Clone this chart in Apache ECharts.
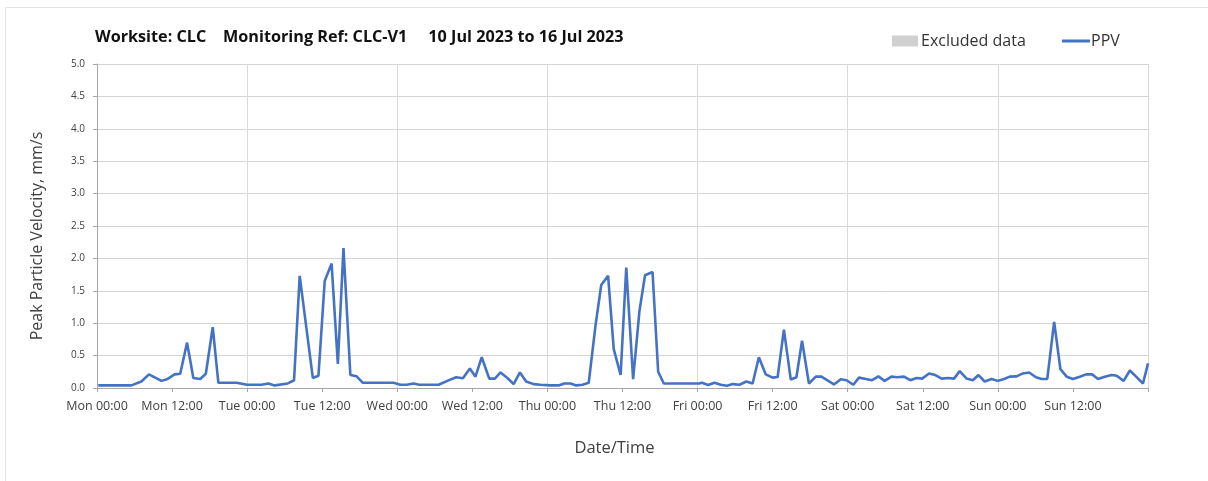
<!DOCTYPE html>
<html>
<head>
<meta charset="utf-8">
<script src="https://cdn.jsdelivr.net/npm/echarts@6/dist/echarts.min.js"></script>
<style>
html,body{margin:0;padding:0;background:#fff;}
#chart{width:1208px;height:481px;}
</style>
</head>
<body>
<div id="chart"></div>
<script>
// Hours since Mon 10 Jul 2023 00:00, and PPV (mm/s) at each reading
const hours = [0.2,5.5,7.1,8.3,10.3,11.3,12.4,13.3,14.4,15.4,16.5,17.4,18.5,19.4,22.3,24.0,26.3,27.4,28.4,30.5,31.5,32.4,34.5,35.4,36.4,37.5,38.5,39.4,40.5,41.5,42.5,47.4,48.5,49.5,50.6,51.5,54.6,56.0,57.4,58.5,59.6,60.5,61.5,62.7,63.6,64.5,65.6,66.6,67.6,68.6,69.8,70.9,72.5,73.8,74.7,75.7,76.6,77.6,78.6,79.7,80.6,81.7,82.6,83.7,84.6,85.7,86.7,87.6,88.8,89.7,90.6,96.2,96.7,97.7,98.7,99.7,100.7,101.6,102.7,103.8,104.8,105.8,106.9,108.0,108.8,109.8,110.9,111.8,112.7,113.8,114.9,115.8,116.9,117.8,118.9,119.8,120.9,121.8,122.9,123.9,124.9,125.9,127.0,127.9,129.0,130.0,131.0,131.9,133.0,134.0,135.0,136.0,137.0,137.9,139.0,140.0,140.9,141.9,143.0,144.0,145.0,145.9,147.0,148.0,149.0,150.1,151.0,151.9,153.0,154.0,155.0,156.0,157.1,158.1,159.1,160.0,161.1,162.2,163.0,164.1,165.1,166.1,167.2,168.0];
const ppv = [0.04,0.04,0.10,0.21,0.11,0.14,0.21,0.22,0.70,0.155,0.14,0.22,0.94,0.08,0.08,0.05,0.05,0.07,0.04,0.07,0.12,1.73,0.155,0.19,1.65,1.92,0.37,2.16,0.20,0.18,0.08,0.08,0.05,0.05,0.07,0.05,0.05,0.11,0.165,0.15,0.30,0.175,0.475,0.145,0.145,0.24,0.155,0.06,0.24,0.10,0.06,0.05,0.04,0.04,0.07,0.07,0.04,0.05,0.08,0.975,1.59,1.73,0.60,0.20,1.86,0.135,1.18,1.74,1.79,0.25,0.07,0.07,0.08,0.045,0.08,0.05,0.035,0.06,0.05,0.10,0.07,0.475,0.21,0.16,0.17,0.90,0.13,0.165,0.73,0.07,0.175,0.175,0.11,0.055,0.135,0.12,0.05,0.16,0.14,0.12,0.18,0.11,0.175,0.165,0.175,0.12,0.155,0.145,0.225,0.20,0.145,0.155,0.145,0.26,0.145,0.12,0.20,0.10,0.14,0.11,0.14,0.175,0.18,0.225,0.24,0.165,0.14,0.14,1.02,0.29,0.175,0.14,0.175,0.21,0.21,0.14,0.175,0.20,0.19,0.11,0.27,0.175,0.07,0.38];
const xTickLabels = ['Mon 00:00','Mon 12:00','Tue 00:00','Tue 12:00','Wed 00:00','Wed 12:00','Thu 00:00','Thu 12:00','Fri 00:00','Fri 12:00','Sat 00:00','Sat 12:00','Sun 00:00','Sun 12:00',''];
const titleText = 'Worksite: CLC    Monitoring Ref: CLC-V1     10 Jul 2023 to 16 Jul 2023';
const yAxisTitle = 'Peak Particle Velocity, mm/s';
const xAxisTitle = 'Date/Time';

const FONT = '"Open Sans", "Liberation Sans", sans-serif';
const chart = echarts.init(document.getElementById('chart'), null, {renderer: 'canvas'});
const lineData = hours.map((h, i) => [h, ppv[i]]);

chart.setOption({
  animation: false,
  backgroundColor: '#ffffff',
  textStyle: {fontFamily: FONT},
  title: {
    text: titleText,
    left: 90, top: 24,
    textStyle: {fontSize: 16.2, fontWeight: 'bold', color: '#111', fontFamily: FONT}
  },
  graphic: [{
    type: 'rect', silent: true,
    shape: {x: 5.5, y: 7.5, width: 1220, height: 480},
    style: {fill: 'none', stroke: '#e3e3e3', lineWidth: 1}
  }],
  legend: [{
    data: ['Excluded data'],
    left: 887, top: 28,
    icon: 'rect', itemWidth: 26, itemHeight: 11, itemGap: 4,
    textStyle: {fontSize: 16, color: '#333', fontFamily: FONT, padding: [0,0,0,-2]}
  }, {
    data: ['PPV'],
    left: 1057, top: 28,
    icon: 'rect', itemWidth: 28, itemHeight: 3,
    textStyle: {fontSize: 16, color: '#333', fontFamily: FONT, padding: [0,0,0,-4]}
  }],
  grid: {left: 97, right: 60, top: 64, bottom: 93, containLabel: false},
  xAxis: [{
    type: 'value', min: 0, max: 168, interval: 12,
    name: xAxisTitle, nameLocation: 'middle', nameGap: 52,
    nameTextStyle: {fontSize: 16.5, color: '#404040', fontFamily: FONT, padding: [0,16,0,0]},
    axisLine: {show: true, lineStyle: {color: '#a6a6a6', width: 1}},
    axisTick: {show: true, length: 4, lineStyle: {color: '#a6a6a6'}},
    axisLabel: {
      fontSize: 12.5, color: '#404040', margin: 12, fontFamily: FONT,
      formatter: v => xTickLabels[Math.round(v / 12)] || ''
    },
    splitLine: {show: false}
  }, {
    type: 'value', min: 0, max: 168, interval: 24, position: 'bottom',
    axisLine: {show: false}, axisTick: {show: false}, axisLabel: {show: false},
    splitLine: {show: true, lineStyle: {color: '#d9d9d9', width: 1}}
  }],
  yAxis: {
    type: 'value', min: 0, max: 5, interval: 0.5,
    name: yAxisTitle, nameLocation: 'middle', nameGap: 52, nameRotate: 90,
    nameTextStyle: {fontSize: 16, color: '#404040', fontFamily: FONT, padding: [0,20,0,0]},
    axisLine: {show: true, lineStyle: {color: '#a6a6a6', width: 1}},
    axisTick: {show: true, length: 4, lineStyle: {color: '#a6a6a6'}},
    axisLabel: {fontSize: 10, color: '#404040', margin: 12, fontFamily: FONT,
      formatter: v => v.toFixed(1)},
    splitLine: {show: true, lineStyle: {color: '#d4d4d4', width: 1}}
  },
  series: [{
    name: 'Excluded data', type: 'bar', data: [],
    itemStyle: {color: '#d0d0d0'}
  }, {
    name: 'PPV', type: 'line', data: lineData,
    xAxisIndex: 0,
    showSymbol: false, symbol: 'none',
    lineStyle: {color: '#4472C4', width: 2.6},
    itemStyle: {color: '#4472C4'}
  }]
});
</script>
</body>
</html>
